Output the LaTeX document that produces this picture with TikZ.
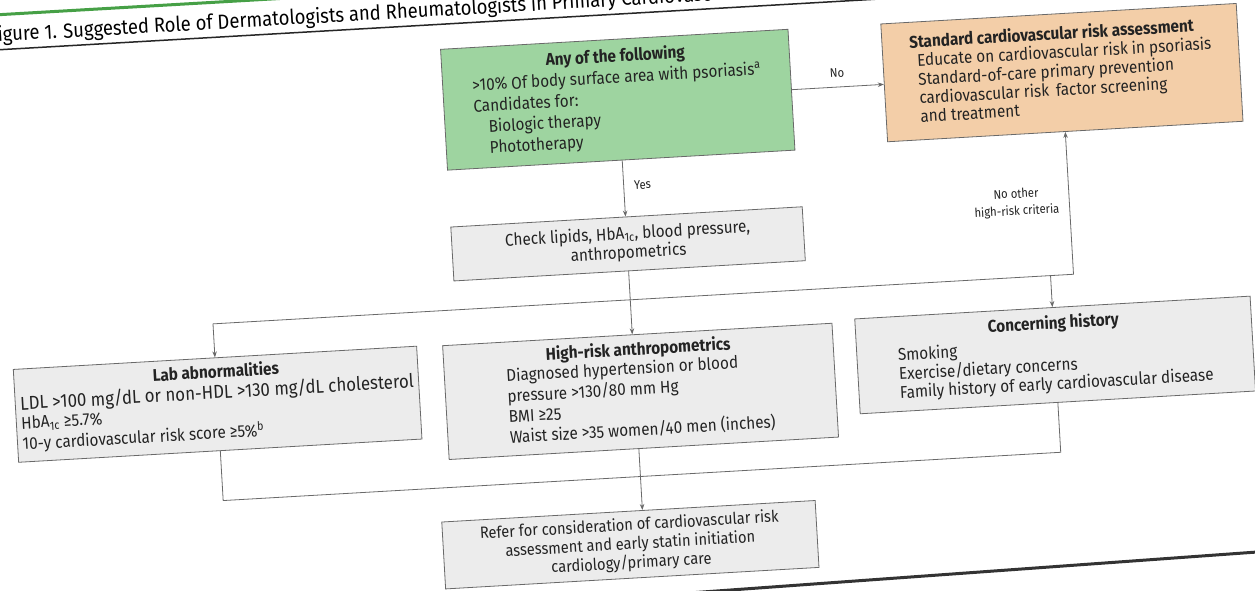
\documentclass[tikz,border=0pt]{standalone}
\usepackage{fontspec}
\setmainfont{Fira Sans}[FakeStretch=0.9]
\usetikzlibrary{arrows.meta}
\definecolor{gfill}{RGB}{158,212,160}
\definecolor{ofill}{RGB}{243,206,168}
\definecolor{bfill}{RGB}{236,236,236}
\definecolor{lcol}{RGB}{105,105,105}
\definecolor{tcol}{RGB}{35,35,35}
\definecolor{rulegreen}{RGB}{70,160,70}
\begin{document}
\begin{tikzpicture}[x=1pt,y=-1pt,
  box/.style={draw=lcol, line width=0.8pt, inner sep=0pt, text=tcol, align=center},
  ln/.style={draw=lcol, line width=0.8pt},
  arr/.style={ln, -{Stealth[length=6pt,width=4.5pt]}},
  lbl/.style={text=tcol, font=\fontsize{12.5}{17}\selectfont, inner sep=0pt}]
\useasboundingbox (0,0) rectangle (1255,590);
\fill[white] (0,0) rectangle (1255,590);
\clip (0,0) rectangle (1255,590);
\begin{scope}[rotate around={3.3:(627,295)}, transform shape]
% title and rules
\draw[line width=3pt, rulegreen] (0,-21) -- (700,-21);
\node[anchor=base west, inner sep=0pt, text=black, font=\fontsize{20.5}{22}\selectfont] (title) at (5,6) {Figure 1. Suggested Role of Dermatologists and Rheumatologists in Primary Cardiovascular Prevention};
\draw[line width=1.5pt, black!85] (0,14) -- (900,14);
\draw[line width=3pt, black!80] (400,600) -- (1300,587);
% boxes
\node[box, fill=gfill, minimum width=348pt, minimum height=121pt, font=\fontsize{17}{21}\selectfont] (any) at (629,99.5)
 {\begin{tabular}{@{}l@{}}\multicolumn{1}{@{}c@{}}{\textbf{Any of the following}}\\
 >10\% Of body surface area with psoriasis\textsuperscript{a}\\
 Candidates for:\\
 \hspace{14pt}Biologic therapy\\
 \hspace{14pt}Phototherapy\end{tabular}};
\node[box, fill=ofill, minimum width=356pt, minimum height=118pt, font=\fontsize{17}{18.5}\selectfont] (std) at (1074,98)
 {\begin{tabular}{@{}l@{}}\textbf{Standard cardiovascular risk assessment}\\
 \hspace{7pt}Educate on cardiovascular risk in psoriasis\\
 \hspace{7pt}Standard-of-care primary prevention\\
 \hspace{7pt}cardiovascular risk\hspace{7pt}factor screening\\
 \hspace{7pt}and treatment\end{tabular}};
\node[box, fill=bfill, minimum width=352pt, minimum height=54pt, font=\fontsize{17}{19}\selectfont] (chk) at (631,244)
 {Check lipids, HbA\textsubscript{1c}, blood pressure,\\ anthropometrics};
\node[box, fill=bfill, minimum width=404pt, minimum height=93pt, font=\fontsize{17}{19}\selectfont] (lab) at (212,380.5)
 {\begin{tabular}{@{}l@{}}\multicolumn{1}{@{}c@{}}{\textbf{Lab abnormalities}}\\
 \resizebox{394pt}{!}{LDL >100 mg/dL or non-HDL >130 mg/dL cholesterol}\\
 HbA\textsubscript{1c} ≥5.7\%\\
 10-y cardiovascular risk score ≥5\%\textsuperscript{b}\end{tabular}};
\node[box, fill=bfill, minimum width=390pt, minimum height=114pt, font=\fontsize{17}{20.5}\selectfont] (hr) at (635,392)
 {\textbf{High-risk anthropometrics}\\
 \begin{tabular}{@{}l@{}}Diagnosed hypertension or blood\\
 pressure >130/80 mm Hg\\
 BMI ≥25\\
 Waist size >35 women/40 men (inches)\end{tabular}};
\node[box, fill=bfill, minimum width=396pt, minimum height=95pt, font=\fontsize{17}{18}\selectfont] (conc) at (1051,379.5)
 {\textbf{Concerning history}\\[5pt]
 \begin{tabular}{@{}l@{}}Smoking\\
 Exercise/dietary concerns\\
 Family history of early cardiovascular disease\end{tabular}};
\node[box, fill=bfill, minimum width=374pt, minimum height=67pt, font=\fontsize{16.3}{19}\selectfont] (ref) at (616,544.5)
 {Refer for consideration of cardiovascular risk\\ assessment and early statin initiation\\ cardiology/primary care};
% connectors
\coordinate (axis) at (630,0);
\coordinate (br) at (630,300);
\coordinate (mg) at (630,477);
\draw[arr] (any.east) -- (any.east -| std.west) node[midway, above=9pt, lbl] {No};
\draw[arr] (any.south -| axis) -- (chk.north -| axis) node[pos=0.45, right=10pt, lbl] {Yes};
\draw[arr] (chk.south -| axis) -- (hr.north -| axis);
\draw[ln] (lab.north |- br) -- (std.south |- br);
\draw[arr] (lab.north |- br) -- (lab.north);
\draw[arr] (conc.north |- br) -- (conc.north);
\draw[arr] (std.south |- br) -- (std.south) node[pos=0.52, left=10pt, lbl, align=center] {No other\\ high-risk criteria};
\draw[ln] (lab.south) -- (lab.south |- mg) -- (conc.south |- mg) -- (conc.south);
\draw[arr] (hr.south -| axis) -- (ref.north -| axis);
\end{scope}
\end{tikzpicture}
\end{document}
